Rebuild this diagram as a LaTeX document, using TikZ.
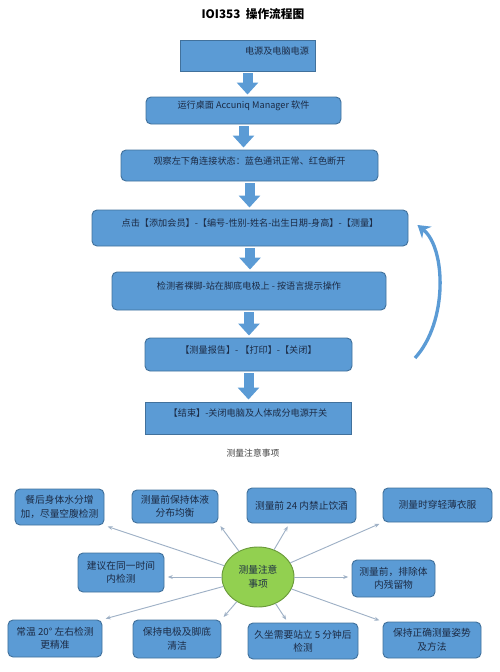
\documentclass[tikz,border=0pt]{standalone}
\usepackage{fontspec}
\setmainfont{Noto Sans CJK SC}
\usetikzlibrary{calc,arrows.meta,shapes.geometric}
\definecolor{fblue}{HTML}{5B9BD5}
\definecolor{fborder}{HTML}{41719C}
\definecolor{ftext}{HTML}{1C2B45}
\definecolor{egreen}{HTML}{92D050}
\definecolor{eborder}{HTML}{6A9A3A}
\definecolor{lgray}{HTML}{9FB1C6}

\begin{document}
\begin{tikzpicture}[x=0.3mm, y=-0.3mm,
    FB/.style={draw=fborder, fill=fblue, thick, text=ftext, font=\fontsize{7.8}{9}\selectfont, text height=2.5mm, text depth=3.4mm, inner sep=0pt},
    RFB/.style={FB, rounded corners=1.5mm},
    NB/.style={draw=fborder, fill=fblue, thick, rounded corners=1.5mm, text=ftext, align=center, font=\fontsize{8.3}{11.5}\selectfont, inner sep=0pt},
    DA/.style={draw=fblue, line width=3mm, -{Triangle[length=3.6mm,width=6.3mm]}, shorten <=0.6mm, shorten >=0.6mm},
    TL/.style={draw=lgray, thick, -{Stealth[length=1.5mm,width=1.2mm]}, shorten >=1mm}
    ]
        \useasboundingbox (0,0) rectangle (500,672);
        \node[font=\bfseries\fontsize{10}{12}\selectfont] (title) at (253,14) {IOI353\ \ 操作流程图};
        % flow chart
        \node[FB, minimum width=40.5mm, minimum height=9.3mm] (b1) at (247.5,55.5) {};
        \node[text=ftext, font=\fontsize{7.8}{9}\selectfont, inner sep=0pt] (b1t) at (277,51) {电源及电脑电源};
        \node[RFB, minimum width=58.5mm, minimum height=8.1mm] (b2) at (243.5,110.5) {运行桌面 Accuniq Manager 软件};
        \node[RFB, minimum width=77.1mm, minimum height=9.3mm] (b3) at (249.5,165.5) {观察左下角连接状态：蓝色通讯正常、红色断开};
        \node[RFB, minimum width=94.8mm, minimum height=10.8mm] (b4) at (250,228) {点击【添加会员】-【编号-性别-姓名-出生日期-身高】-【测量】};
        \node[RFB, minimum width=82.2mm, minimum height=11.4mm] (b5) at (249,291) {检测者裸脚-站在脚底电极上 - 按语言提示操作};
        \node[RFB, minimum width=62.1mm, minimum height=9.9mm] (b6) at (248.5,354.5) {【测量报告】- 【打印】-【关闭】};
        \node[FB, minimum width=61.8mm, minimum height=9.6mm] (b7) at (248,418) {【结束】-关闭电脑及人体成分电源开关};
        \draw[DA] (b1.south) -- (b1.south |- b2.north);
        \draw[DA] (b2.south) -- (b2.south |- b3.north);
        \draw[DA] (b3.south) -- (b3.south |- b4.north);
        \draw[DA] (b4.south) -- (b4.south |- b5.north);
        \draw[DA] (b5.south) -- (b5.south |- b6.north);
        \draw[DA] (b6.south) -- (b6.south |- b7.north);
        \coordinate (backS) at (415,358);
        \draw[fblue, line width=1mm, -{Stealth[length=3.6mm,width=4.5mm]}] (backS) .. controls (448,322) and (446,248) .. ($(b4.east)+(9,-3)$);
        % notes
        \node[font=\fontsize{7.5}{9}\selectfont, text=black!75] (notes) at (253,453) {测量注意事项};
        \node[ellipse, draw=eborder, fill=egreen, thick, minimum width=21.6mm, minimum height=18mm, align=center, inner sep=0pt, text=ftext, font=\fontsize{8.3}{11.5}\selectfont] (core) at (258,577) {测量注意\\事项};
        \node[NB, minimum width=26.7mm, minimum height=10.8mm] (sA) at (59.5,507) {餐后身体水分增\\加，尽量空腹检测};
        \node[NB, minimum width=25.8mm, minimum height=9.9mm] (sB) at (175,506.5) {测量前保持体液\\分布均衡};
        \node[NB, minimum width=32.7mm, minimum height=10.5mm] (sC) at (301.5,505.5) {测量前 24 内禁止饮酒};
        \node[NB, minimum width=32.7mm, minimum height=10.2mm] (sD) at (437.5,505) {测量时穿轻薄衣服};
        \node[NB, minimum width=25.8mm, minimum height=11.7mm] (sE) at (121,572.5) {建议在同一时间\\内检测};
        \node[NB, minimum width=24.9mm, minimum height=11.1mm] (sF) at (393.5,578.5) {测量前，排除体\\内残留物};
        \node[NB, minimum width=28.2mm, minimum height=11.1mm] (sG) at (55,638.5) {常温 20° 左右检测\\更精准};
        \node[NB, minimum width=26.4mm, minimum height=11.4mm] (sH) at (177,639) {保持电极及脚底\\清洁};
        \node[NB, minimum width=33mm, minimum height=10.8mm] (sI) at (303,641) {久坐需要站立 5 分钟后\\检测};
        \node[NB, minimum width=29.4mm, minimum height=10.8mm] (sJ) at (432,640) {保持正确测量姿势\\及方法};
        \draw[TL] (core) -- (sA.south east);
        \draw[TL] (core) -- (sB.south east);
        \draw[TL] (core) -- ($(sC.south)+(-12,0)$);
        \draw[TL] (core) -- (sD.south west);
        \draw[TL] (core.west) -- (core.west -| sE.east);
        \draw[TL] (core.east) -- (core.east -| sF.west);
        \draw[TL] (core) -- (sG.north east);
        \draw[TL] (core) -- (sH.north east);
        \draw[TL] (core) -- ($(sI.north)+(-15,0)$);
        \draw[TL] (core) -- (sJ.north west);
\end{tikzpicture}
\end{document}
